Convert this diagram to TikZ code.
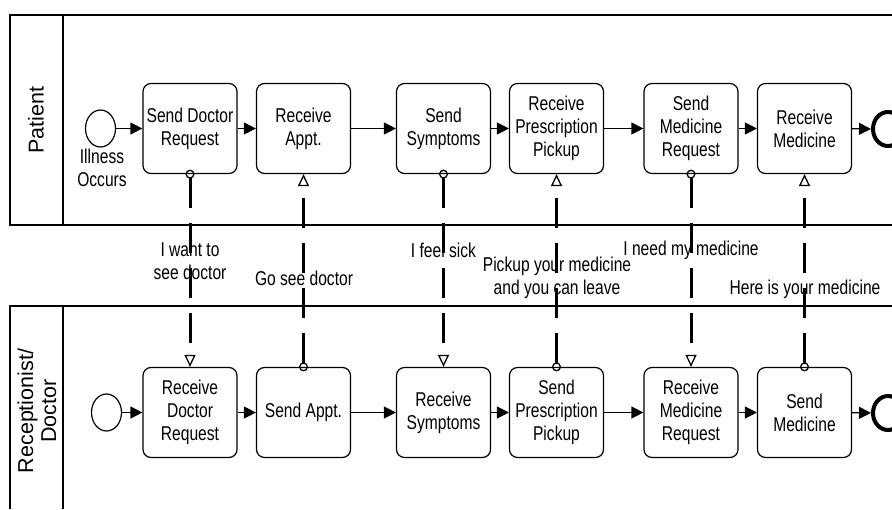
\documentclass[tikz,border=0pt]{standalone}
\usepackage{fontspec}
\setmainfont[FakeStretch=0.78]{Liberation Sans}
\newfontfamily\lanefont{Liberation Sans}
\usetikzlibrary{arrows.meta,shapes.geometric}

\begin{document}
\begin{tikzpicture}[x=1pt, y=-1pt,
  task/.style={draw, rounded corners=8pt, line width=1.2pt, minimum width=94pt, minimum height=90pt, align=center, inner sep=1pt, font=\fontsize{20}{23}\selectfont},
  start/.style={draw, ellipse, line width=1.2pt, minimum width=30pt, minimum height=37pt, inner sep=0pt},
  stop/.style={draw, ellipse, line width=4pt, minimum width=30pt, minimum height=34pt, inner sep=0pt},
  seq/.style={-{Triangle[length=12pt, width=12pt]}, line width=1.3pt},
  msg/.style={{Circle[open, length=9pt, width=9pt, line width'=1.3pt]}-{Triangle[open, length=12pt, width=11pt, line width'=1.3pt]}, line width=3pt, dash pattern=on 30pt off 15pt, shorten <=-4.5pt},
  lbl/.style={align=center, inner sep=0pt, font=\fontsize{20}{23}\selectfont}]
  \useasboundingbox (0,0) rectangle (892,509);

  % lanes
  \draw[line width=1.2pt] (892,15) -- (10,15) -- (10,225) -- (892,225);
  \draw[line width=1.2pt] (63,15) -- (63,225);
  \draw[line width=1.2pt] (892,306) -- (10,306) -- (10,509);
  \draw[line width=1.2pt] (63,306) -- (63,509);
  \node[rotate=90, align=center, font=\lanefont\fontsize{21.5}{23}\selectfont] (lp) at (36,120) {Patient};
  \node[rotate=90, align=center, font=\lanefont\fontsize{21.5}{23}\selectfont] (lr) at (37,411) {Receptionist/\\Doctor};

  % patient
  \node[start] (ps) at (100.5,128.5) {};
  \node[lbl] (pl) at (102,168) {Illness\\Occurs};
  \node[task] (p1) at (190,128.5) {Send Doctor\\Request};
  \node[task] (p2) at (303.5,128.5) {Receive\\Appt.};
  \node[task] (p3) at (443.5,128.5) {Send\\Symptoms};
  \node[task] (p4) at (556.5,128.5) {Receive\\Prescription\\Pickup};
  \node[task] (p5) at (691,128.5) {Send\\Medicine\\Request};
  \node[task] (p6) at (804.5,128.5) {Receive\\Medicine};
  \node[stop] (pe) at (888,129) {};

  % receptionist / doctor
  \node[start] (rs) at (106.5,412.5) {};
  \node[task] (r1) at (190,412.5) {Receive\\Doctor\\Request};
  \node[task] (r2) at (303.5,412.5) {Send Appt.};
  \node[task] (r3) at (443.5,412.5) {Receive\\Symptoms};
  \node[task] (r4) at (556.5,412.5) {Send\\Prescription\\Pickup};
  \node[task] (r5) at (691,412.5) {Receive\\Medicine\\Request};
  \node[task] (r6) at (804.5,412.5) {Send\\Medicine};
  \node[stop] (re) at (888,413) {};

  \draw[seq] (ps) -- (p1);
  \draw[seq] (p1) -- (p2);
  \draw[seq] (p2) -- (p3);
  \draw[seq] (p3) -- (p4);
  \draw[seq] (p4) -- (p5);
  \draw[seq] (p5) -- (p6);
  \draw[seq] (p6) -- (pe);
  \draw[seq] (rs) -- (r1);
  \draw[seq] (r1) -- (r2);
  \draw[seq] (r2) -- (r3);
  \draw[seq] (r3) -- (r4);
  \draw[seq] (r4) -- (r5);
  \draw[seq] (r5) -- (r6);
  \draw[seq] (r6) -- (re);

  % messages
  \draw[msg] (p1.south) -- (r1.north);
  \draw[msg] (r2.north) -- (p2.south);
  \draw[msg] (p3.south) -- (r3.north);
  \draw[msg] (r4.north) -- (p4.south);
  \draw[msg] (p5.south) -- (r5.north);
  \draw[msg] (r6.north) -- (p6.south);

  \node[lbl] (m1) at (190,261.5) {I want to\\see doctor};
  \node[lbl] (m2) at (304,278) {Go see doctor};
  \node[lbl] (m3) at (443.5,250) {I feel sick};
  \node[lbl] (m4) at (557,277.5) {Pickup your medicine\\and you can leave};
  \node[lbl] (m5) at (691,250) {I need my medicine};
  \node[lbl] (m6) at (805,289) {Here is your medicine};
\end{tikzpicture}
\end{document}
